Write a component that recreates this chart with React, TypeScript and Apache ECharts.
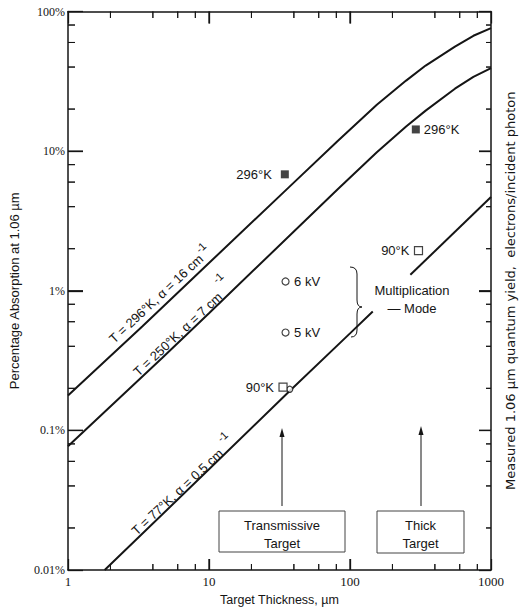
import React, { useEffect, useRef } from "react";
import * as echarts from "echarts";

// ---- data ----
const xTickValues = [1, 10, 100, 1000];
const xTickLabels = ["1", "10", "100", "1000"];
const yTickValues = [0.01, 0.1, 1, 10, 100];
const yTickLabels = ["0.01%", "0.1%", "1%", "10%", "100%"];
const xMinorTicks = [2, 4, 6, 8, 20, 40, 60, 80, 200, 400, 600, 800];
const yMinorTicks = [0.02, 0.04, 0.06, 0.08, 0.2, 0.4, 0.6, 0.8, 2, 4, 6, 8, 20, 40, 60, 80];

// T = 296 K, alpha = 16 cm-1
const thick296 = [1, 3.36, 10, 36.8, 81.8, 155, 250, 344, 555, 750, 1000];
const absorb296 = [0.178, 0.554, 1.58, 5.5, 11.8, 21.5, 32, 41, 56, 67, 76];
// T = 250 K, alpha = 7 cm-1
const thick250 = [1, 4.63, 10, 81.8, 155, 250, 344, 555, 750, 1000];
const absorb250 = [0.077, 0.328, 0.69, 5.33, 9.8, 15, 19.5, 28, 34, 39.3];
// T = 77 K, alpha = 0.5 cm-1 (two visible segments)
const thick77a = [1.82, 10, 37, 100, 145];
const absorb77a = [0.01, 0.0526, 0.19, 0.495, 0.71];
const thick77b = [268, 1000];
const absorb77b = [1.3, 4.7];

// measured points
const filledSqX = [34.5, 293];
const filledSqY = [6.82, 14.3];
const filledSqLabels = ["296°K", "296°K"];
const filledSqPos = ["left", "right"];
const openCircX = [34.9, 34.9, 37.4];
const openCircY = [1.165, 0.502, 0.197];
const openCircLabels = ["6 kV", "5 kV", ""];
const openSqX = [33.5, 306];
const openSqY = [0.204, 1.94];
const openSqLabels = ["90°K", "90°K"];

const SANS = "'Liberation Sans', Arial, sans-serif";
const SERIF = "'Liberation Serif', 'DejaVu Serif', serif";
const INK = "#151515";

const zip = (xs: number[], ys: number[]) => xs.map((x, i) => [x, ys[i]]);

export default function App() {
  const ref = useRef<HTMLDivElement>(null);
  useEffect(() => {
    if (!ref.current) return;
    const chart = echarts.init(ref.current, null, { renderer: "svg" });
    const labelFmt = (vals: number[], labels: string[]) => (v: number) => {
      const i = vals.findIndex((t) => Math.abs(Math.log10(t) - Math.log10(v)) < 1e-6);
      return i >= 0 ? labels[i] : "";
    };
    const axisLine = () => ({ show: true, onZero: false, lineStyle: { color: INK, width: 1.5 } });
    const majorTick = (len: number) => ({ show: true, inside: true, length: len, lineStyle: { color: INK, width: 1.3 } });
    const lineStyle = () => ({ color: INK, width: 2 });
    const textStyle = { fontFamily: SANS, fontSize: 13, fill: INK };
    const xMin = xTickValues[0];
    const xMax = xTickValues[xTickValues.length - 1];
    const yMin = yTickValues[0];
    const yMax = yTickValues[yTickValues.length - 1];
    const innerX = xTickValues.slice(1, -1);
    const innerY = yTickValues.slice(1, -1);

    // tick specs: [x, y, dxPx, dyPx, width]
    const tickData: number[][] = [];
    innerX.forEach((v) => { tickData.push([v, yMin, 0, -11, 1.3]); tickData.push([v, yMax, 0, 12, 1.3]); });
    xMinorTicks.forEach((v) => { tickData.push([v, yMin, 0, -6, 1]); tickData.push([v, yMax, 0, 6.5, 1]); });
    innerY.forEach((v) => { tickData.push([xMin, v, 15, 0, 1.3]); tickData.push([xMax, v, -12, 0, 1.3]); });
    yMinorTicks.forEach((v) => { tickData.push([xMin, v, 7, 0, 1]); tickData.push([xMax, v, -5, 0, 1]); });

    const option: any = {
      animation: false,
      backgroundColor: "#fff",
      grid: { left: 64, top: 11.5, right: 28, bottom: 38 },
      xAxis: [
        {
          type: "log",
          min: xMin,
          max: xMax,
          axisLine: axisLine(),
          axisTick: majorTick(11),
          axisLabel: { margin: 5, color: INK, fontFamily: SERIF, fontSize: 13, formatter: labelFmt(xTickValues, xTickLabels) },
          splitLine: { show: false },
          name: "Target Thickness, µm",
          nameLocation: "middle",
          nameGap: 23,
          nameTextStyle: { fontFamily: SANS, fontSize: 12.5, color: INK },
        },
        {
          type: "log",
          min: xMin,
          max: xMax,
          position: "top",
          axisLine: axisLine(),
          axisTick: majorTick(12),
          axisLabel: { show: false },
          splitLine: { show: false },
        },
      ],
      yAxis: [
        {
          type: "log",
          logBase: 10,
          min: yMin,
          max: yMax,
          position: "left",
          axisLine: axisLine(),
          axisTick: majorTick(15),
          axisLabel: { show: true, margin: 3, color: INK, fontFamily: SERIF, fontSize: 12, formatter: labelFmt(yTickValues, yTickLabels) },
          splitLine: { show: false },
          name: "Percentage Absorption at 1.06 µm",
          nameLocation: "middle",
          nameGap: 47,
          nameRotate: 90,
          nameTextStyle: { fontFamily: SANS, fontSize: 13, color: INK },
        },
        {
          type: "log",
          min: yMin,
          max: yMax,
          position: "right",
          axisLine: axisLine(),
          axisTick: majorTick(12),
          axisLabel: { show: false },
          splitLine: { show: false },
          name: "Measured 1.06 µm quantum yield,  electrons/incident photon",
          nameLocation: "middle",
          nameGap: 13,
          nameRotate: 90,
          nameTextStyle: { fontFamily: "'DejaVu Sans', sans-serif", fontSize: 13, color: INK },
        },
      ],
      series: [
        {
          type: "custom",
          xAxisIndex: 0,
          yAxisIndex: 0,
          encode: { x: 0, y: 1 },
          data: tickData,
          renderItem: (_params: any, api: any) => {
            const p = api.coord([api.value(0), api.value(1)]);
            return {
              type: "line",
              shape: { x1: p[0], y1: p[1], x2: p[0] + api.value(2), y2: p[1] + api.value(3) },
              style: { stroke: INK, lineWidth: api.value(4) },
            };
          },
        },
        { type: "line", data: zip(thick296, absorb296), showSymbol: false, lineStyle: lineStyle(), xAxisIndex: 0, yAxisIndex: 0 },
        { type: "line", data: zip(thick250, absorb250), showSymbol: false, lineStyle: lineStyle(), xAxisIndex: 0, yAxisIndex: 0 },
        { type: "line", data: zip(thick77a, absorb77a), showSymbol: false, lineStyle: lineStyle(), xAxisIndex: 0, yAxisIndex: 0 },
        { type: "line", data: zip(thick77b, absorb77b), showSymbol: false, lineStyle: lineStyle(), xAxisIndex: 0, yAxisIndex: 0 },
        {
          type: "scatter",
          symbol: "rect",
          symbolSize: 8,
          itemStyle: { color: INK },
          xAxisIndex: 0,
          yAxisIndex: 0,
          z: 3,
          data: zip(filledSqX, filledSqY),
        },
        {
          type: "scatter",
          symbol: "circle",
          symbolSize: 7,
          itemStyle: { color: "#fff", borderColor: INK, borderWidth: 1.2 },
          xAxisIndex: 0,
          yAxisIndex: 0,
          z: 3,
          data: openCircX.map((x, i) => ({ value: [x, openCircY[i]], symbolSize: openCircLabels[i] ? 7 : 6 })),
        },
        {
          type: "scatter",
          symbol: "rect",
          symbolSize: 8,
          itemStyle: { color: "#fff", borderColor: INK, borderWidth: 1.2 },
          xAxisIndex: 0,
          yAxisIndex: 0,
          z: 3,
          data: zip(openSqX, openSqY),
        },
      ],
    };
    chart.setOption(option);

    // minor tick marks and point labels placed with the axes' own scales
    const ticks: any[] = [];
    const pointLabels: any[] = [];
    try {
      const toPx = (x: number, y: number) => chart.convertToPixel({ xAxisIndex: 0, yAxisIndex: 0 }, [x, y]) as number[];
      const tick = (x1: number, y1: number, x2: number, y2: number) =>
        ticks.push({ type: "line", shape: { x1, y1, x2, y2 }, style: { stroke: INK, lineWidth: 1 } });
      xMinorTicks.forEach((v) => {
        const pb = toPx(v, yMin);
        const pt = toPx(v, yMax);
        tick(pb[0], pb[1], pb[0], pb[1] - 6);
        tick(pt[0], pt[1], pt[0], pt[1] + 6.5);
      });
      yMinorTicks.forEach((v) => {
        const pl = toPx(xMin, v);
        const pr = toPx(xMax, v);
        tick(pl[0], pl[1], pl[0] + 7, pl[1]);
        tick(pr[0], pr[1], pr[0] - 5, pr[1]);
      });
      const addLabel = (x: number, y: number, text: string, pos: string, gap: number) => {
        if (!text) return;
        const p = toPx(x, y);
        pointLabels.push({
          type: "text",
          x: pos === "left" ? p[0] - gap : p[0] + gap,
          y: p[1],
          style: { ...textStyle, text, align: pos === "left" ? "right" : "left", verticalAlign: "middle" },
        });
      };
      filledSqX.forEach((x, i) => addLabel(x, filledSqY[i], filledSqLabels[i], filledSqPos[i], filledSqPos[i] === "left" ? 13 : 8));
      openCircX.forEach((x, i) => addLabel(x, openCircY[i], openCircLabels[i], "right", 8.5));
      openSqX.forEach((x, i) => addLabel(x, openSqY[i], openSqLabels[i], "left", 9));
    } catch (e) {
      // ignore
    }

    const annotations: any[] = [
      // curve labels
      {
        type: "group",
        x: 196,
        y: 261.5,
        rotation: 0.75,
        children: [
          { type: "text", x: 7, y: 0, style: { ...textStyle, text: "T = 296°K, α = 16 cm", align: "right", verticalAlign: "middle" } },
          { type: "text", x: 13, y: -7, style: { ...textStyle, fontSize: 11, text: "-1", align: "center", verticalAlign: "middle" } },
        ],
      },
      {
        type: "group",
        x: 215,
        y: 299.5,
        rotation: 0.75,
        children: [
          { type: "text", x: 7, y: 0, style: { ...textStyle, text: "T = 250°K, α = 7 cm", align: "right", verticalAlign: "middle" } },
          { type: "text", x: 17, y: -14, style: { ...textStyle, fontSize: 11, text: "-1", align: "center", verticalAlign: "middle" } },
        ],
      },
      {
        type: "group",
        x: 216,
        y: 456,
        rotation: 0.75,
        children: [
          { type: "text", x: 7, y: 0, style: { ...textStyle, text: "T = 77°K, α = 0.5 cm", align: "right", verticalAlign: "middle" } },
          { type: "text", x: 18, y: -10, style: { ...textStyle, fontSize: 11, text: "-1", align: "center", verticalAlign: "middle" } },
        ],
      },
      // brace
      { type: "bezierCurve", shape: { x1: 350, y1: 267, x2: 357, y2: 274, cpx1: 357, cpy1: 267 }, style: { stroke: INK, lineWidth: 1, fill: "none" } },
      { type: "line", shape: { x1: 357, y1: 274, x2: 357, y2: 300 }, style: { stroke: INK, lineWidth: 1 } },
      { type: "bezierCurve", shape: { x1: 357, y1: 300, x2: 362, y2: 307, cpx1: 357, cpy1: 307 }, style: { stroke: INK, lineWidth: 1, fill: "none" } },
      { type: "bezierCurve", shape: { x1: 362, y1: 307, x2: 357, y2: 314, cpx1: 357, cpy1: 307 }, style: { stroke: INK, lineWidth: 1, fill: "none" } },
      { type: "line", shape: { x1: 357, y1: 314, x2: 357, y2: 330 }, style: { stroke: INK, lineWidth: 1 } },
      { type: "bezierCurve", shape: { x1: 357, y1: 330, x2: 351, y2: 337, cpx1: 357, cpy1: 337 }, style: { stroke: INK, lineWidth: 1, fill: "none" } },
      { type: "text", x: 412, y: 290, style: { ...textStyle, text: "Multiplication", align: "center", verticalAlign: "middle" } },
      { type: "text", x: 412, y: 308, style: { ...textStyle, text: "— Mode", align: "center", verticalAlign: "middle" } },
      // arrows and boxes
      { type: "line", shape: { x1: 282, y1: 506, x2: 282, y2: 434 }, style: { stroke: INK, lineWidth: 1 } },
      { type: "polygon", shape: { points: [[282, 428], [279.5, 437], [284.5, 437]] }, style: { fill: INK } },
      { type: "line", shape: { x1: 421, y1: 506, x2: 421, y2: 432 }, style: { stroke: INK, lineWidth: 1 } },
      { type: "polygon", shape: { points: [[421, 426], [418.5, 435], [423.5, 435]] }, style: { fill: INK } },
      { type: "rect", shape: { x: 219, y: 511, width: 126, height: 41 }, style: { fill: "#fff", stroke: "#444", lineWidth: 1 } },
      { type: "text", x: 282, y: 525, style: { ...textStyle, text: "Transmissive", align: "center", verticalAlign: "middle" } },
      { type: "text", x: 282, y: 543, style: { ...textStyle, text: "Target", align: "center", verticalAlign: "middle" } },
      { type: "rect", shape: { x: 377, y: 511, width: 87, height: 42 }, style: { fill: "#fff", stroke: "#444", lineWidth: 1 } },
      { type: "text", x: 420.5, y: 525, style: { ...textStyle, text: "Thick", align: "center", verticalAlign: "middle" } },
      { type: "text", x: 420.5, y: 543, style: { ...textStyle, text: "Target", align: "center", verticalAlign: "middle" } },
    ];
    chart.setOption({ graphic: [...ticks, ...pointLabels, ...annotations] });

    return () => chart.dispose();
  }, []);
  return <div ref={ref} style={{ position: "fixed", left: 0, top: 0, width: 525, height: 611, background: "#fff" }} />;
}
